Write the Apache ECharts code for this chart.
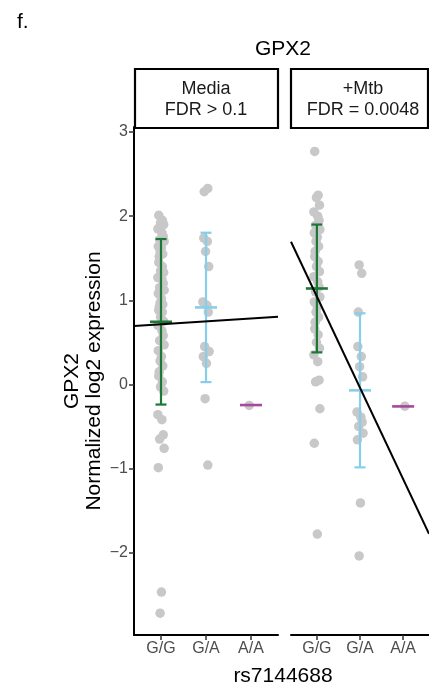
<!DOCTYPE html>
<html><head><meta charset="utf-8">
<script src="https://cdn.jsdelivr.net/npm/echarts@6/dist/echarts.min.js"></script>
<style>html,body{margin:0;padding:0;background:#fff}#c{width:429px;height:696px}</style>
</head><body><div id="c"></div>
<script>
const genotypes = ['G/G', 'G/A', 'A/A'];
const panelNames = ['Media', '+Mtb'];
const fdrLabels = ['FDR > 0.1', 'FDR = 0.0048'];
const yTicks = [-2, -1, 0, 1, 2, 3];

const mediaGG = [2.01, 1.95, 1.92, 1.90, 1.85, 1.80, 1.76, 1.72, 1.70, 1.64, 1.62, 1.58, 1.55, 1.52, 1.45, 1.40, 1.35, 1.33, 1.27, 1.25, 1.20, 1.15, 1.12, 1.08, 1.02, 0.97, 0.95, 0.92, 0.88, 0.86, 0.80, 0.75, 0.70, 0.64, 0.58, 0.52, 0.47, 0.40, 0.33, 0.28, 0.22, 0.15, 0.10, 0.03, -0.03, -0.08, -0.36, -0.42, -0.60, -0.65, -0.76, -0.99, -2.47, -2.72];
const mediaGA = [2.33, 2.29, 1.74, 1.70, 1.58, 1.40, 0.98, 0.94, 0.86, 0.45, 0.39, 0.33, 0.25, -0.17, -0.96];
const mediaAA = [-0.25];
const mtbGG = [2.77, 2.25, 2.22, 2.13, 2.05, 2.00, 1.95, 1.89, 1.84, 1.80, 1.75, 1.70, 1.64, 1.58, 1.52, 1.46, 1.40, 1.34, 1.28, 1.22, 1.16, 1.10, 1.04, 0.98, 0.92, 0.86, 0.80, 0.74, 0.66, 0.59, 0.50, 0.43, 0.35, 0.27, 0.05, 0.03, -0.29, -0.70, -1.78];
const mtbGA = [1.42, 1.32, 0.86, 0.45, 0.33, 0.21, 0.09, -0.33, -0.39, -0.45, -0.50, -0.58, -0.66, -1.41, -2.04];
const mtbAA = [-0.26];

const mediaMean = [0.744, 0.915, -0.246];
const mediaSD = [0.984, 0.888, 0];
const mtbMean = [1.14, -0.071, -0.262];
const mtbSD = [0.76, 0.916, 0];

// regression: value = intercept + slope * genotypeIndex (G/G = 1)
const mediaFit = [0.679, 0.0345];
const mtbFit = [2.13, -1.085];

const jitter = [-0.05, 0.03, -0.01, 0.06, -0.07, 0.02, 0.05, -0.03, 0.07, -0.06, 0.01, -0.02, 0.04, -0.04];

const Y_MIN = -2.98, Y_MAX = 3.06, X_MIN = 0.4, X_MAX = 3.6;
const groupColors = ['#1b7837', '#87ceeb', '#a8479d'];
const FONT = 'Liberation Sans, Arial, sans-serif';

function pointsData(groups) {
  const out = [];
  let k = 0;
  groups.forEach((vals, g) => {
    vals.forEach(v => { out.push([g + 1 + jitter[k % jitter.length], v]); k++; });
  });
  return out;
}
function ebData(means, sds) { return means.map((m, i) => [i + 1, m, sds[i]]); }
function fitData(fit) { return [[X_MIN, fit[0] + fit[1] * X_MIN], [X_MAX, fit[0] + fit[1] * X_MAX]]; }

function renderEB(params, api) {
  const x = api.value(0), m = api.value(1), sd = api.value(2);
  const c = api.coord([x, m]);
  const color = groupColors[Math.round(x) - 1];
  const st = { stroke: color, lineWidth: 2.2 };
  const children = [];
  if (sd > 0) {
    const hi = api.coord([x, m + sd]), lo = api.coord([x, m - sd]);
    children.push({ type: 'line', shape: { x1: c[0], y1: hi[1], x2: c[0], y2: lo[1] }, style: st });
    children.push({ type: 'line', shape: { x1: c[0] - 5.5, y1: hi[1], x2: c[0] + 5.5, y2: hi[1] }, style: st });
    children.push({ type: 'line', shape: { x1: c[0] - 5.5, y1: lo[1], x2: c[0] + 5.5, y2: lo[1] }, style: st });
  }
  children.push({ type: 'line', shape: { x1: c[0] - 11, y1: c[1], x2: c[0] + 11, y2: c[1] }, style: { stroke: color, lineWidth: 2.6 } });
  return { type: 'group', children };
}

function xAxisCfg(gi) {
  return {
    type: 'value', gridIndex: gi, min: X_MIN, max: X_MAX,
    axisLine: { show: true, onZero: false, lineStyle: { color: '#000', width: 2 } },
    axisTick: { show: true, customValues: [1, 2, 3], length: 5, lineStyle: { color: '#333', width: 1.5 } },
    axisLabel: { customValues: [1, 2, 3], formatter: v => genotypes[Math.round(v) - 1], color: '#4d4d4d', fontSize: 16, margin: 6, fontFamily: FONT },
    splitLine: { show: false }
  };
}
function yAxisCfg(gi, show) {
  return {
    type: 'value', gridIndex: gi, min: Y_MIN, max: Y_MAX, show: show,
    axisLine: { show: true, onZero: false, lineStyle: { color: '#000', width: 2 } },
    axisTick: { show: true, customValues: yTicks, length: 5, lineStyle: { color: '#333', width: 1.5 } },
    axisLabel: { customValues: yTicks, formatter: v => (v < 0 ? '\u2212' + Math.abs(v) : String(v)), color: '#4d4d4d', fontSize: 16, margin: 6, fontFamily: FONT },
    splitLine: { show: false }
  };
}

const panelsPts = [[mediaGG, mediaGA, mediaAA], [mtbGG, mtbGA, mtbAA]];
const panelsEB = [[mediaMean, mediaSD], [mtbMean, mtbSD]];
const panelsFit = [mediaFit, mtbFit];

const series = [];
[0, 1].forEach(p => {
  series.push({ type: 'scatter', xAxisIndex: p, yAxisIndex: p, symbolSize: 9.5, itemStyle: { color: '#c8c8c8', opacity: 1 }, data: pointsData(panelsPts[p]), z: 1, silent: true });
  series.push({ type: 'custom', xAxisIndex: p, yAxisIndex: p, renderItem: renderEB, data: ebData(panelsEB[p][0], panelsEB[p][1]), z: 2, silent: true });
  series.push({ type: 'line', xAxisIndex: p, yAxisIndex: p, data: fitData(panelsFit[p]), showSymbol: false, lineStyle: { color: '#000', width: 2 }, z: 3, clip: true, silent: true });
});

const stripTop = 69, stripH = 59;
const graphic = [
  { type: 'text', x: 17, y: 22, style: { text: 'f.', font: '21px ' + FONT, fill: '#000', textAlign: 'left', textVerticalAlign: 'middle' } },
  { type: 'text', x: 283, y: 49, style: { text: 'GPX2', font: '21px ' + FONT, fill: '#000', textAlign: 'center', textVerticalAlign: 'middle' } },
  { type: 'rect', shape: { x: 135, y: stripTop, width: 143, height: stripH }, style: { fill: '#fff', stroke: '#000', lineWidth: 2.2 } },
  { type: 'rect', shape: { x: 291, y: stripTop, width: 137, height: stripH }, style: { fill: '#fff', stroke: '#000', lineWidth: 2.2 } },
  { type: 'text', x: 206, y: 89, style: { text: panelNames[0], font: '18px ' + FONT, fill: '#1a1a1a', textAlign: 'center', textVerticalAlign: 'middle' } },
  { type: 'text', x: 206, y: 110, style: { text: fdrLabels[0], font: '18px ' + FONT, fill: '#1a1a1a', textAlign: 'center', textVerticalAlign: 'middle' } },
  { type: 'text', x: 363, y: 89, style: { text: panelNames[1], font: '18px ' + FONT, fill: '#1a1a1a', textAlign: 'center', textVerticalAlign: 'middle' } },
  { type: 'text', x: 363, y: 110, style: { text: fdrLabels[1], font: '18px ' + FONT, fill: '#1a1a1a', textAlign: 'center', textVerticalAlign: 'middle' } },
  { type: 'text', x: 72, y: 381, rotation: Math.PI / 2, style: { text: 'GPX2', font: '21px ' + FONT, fill: '#000', textAlign: 'center', textVerticalAlign: 'middle' } },
  { type: 'text', x: 94, y: 381, rotation: Math.PI / 2, style: { text: 'Normalized log2 expression', font: '21px ' + FONT, fill: '#000', textAlign: 'center', textVerticalAlign: 'middle' } },
  { type: 'text', x: 283, y: 676, style: { text: 'rs7144688', font: '21px ' + FONT, fill: '#000', textAlign: 'center', textVerticalAlign: 'middle' } }
];

const chart = echarts.init(document.getElementById('c'), null, { renderer: 'canvas' });
chart.setOption({
  animation: false,
  backgroundColor: '#fff',
  grid: [
    { left: 134, top: 127, width: 144, height: 508 },
    { left: 291, top: 127, width: 144, height: 508 }
  ],
  xAxis: [xAxisCfg(0), xAxisCfg(1)],
  yAxis: [yAxisCfg(0, true), yAxisCfg(1, false)],
  series: series,
  graphic: graphic
});
</script>
</body></html>
